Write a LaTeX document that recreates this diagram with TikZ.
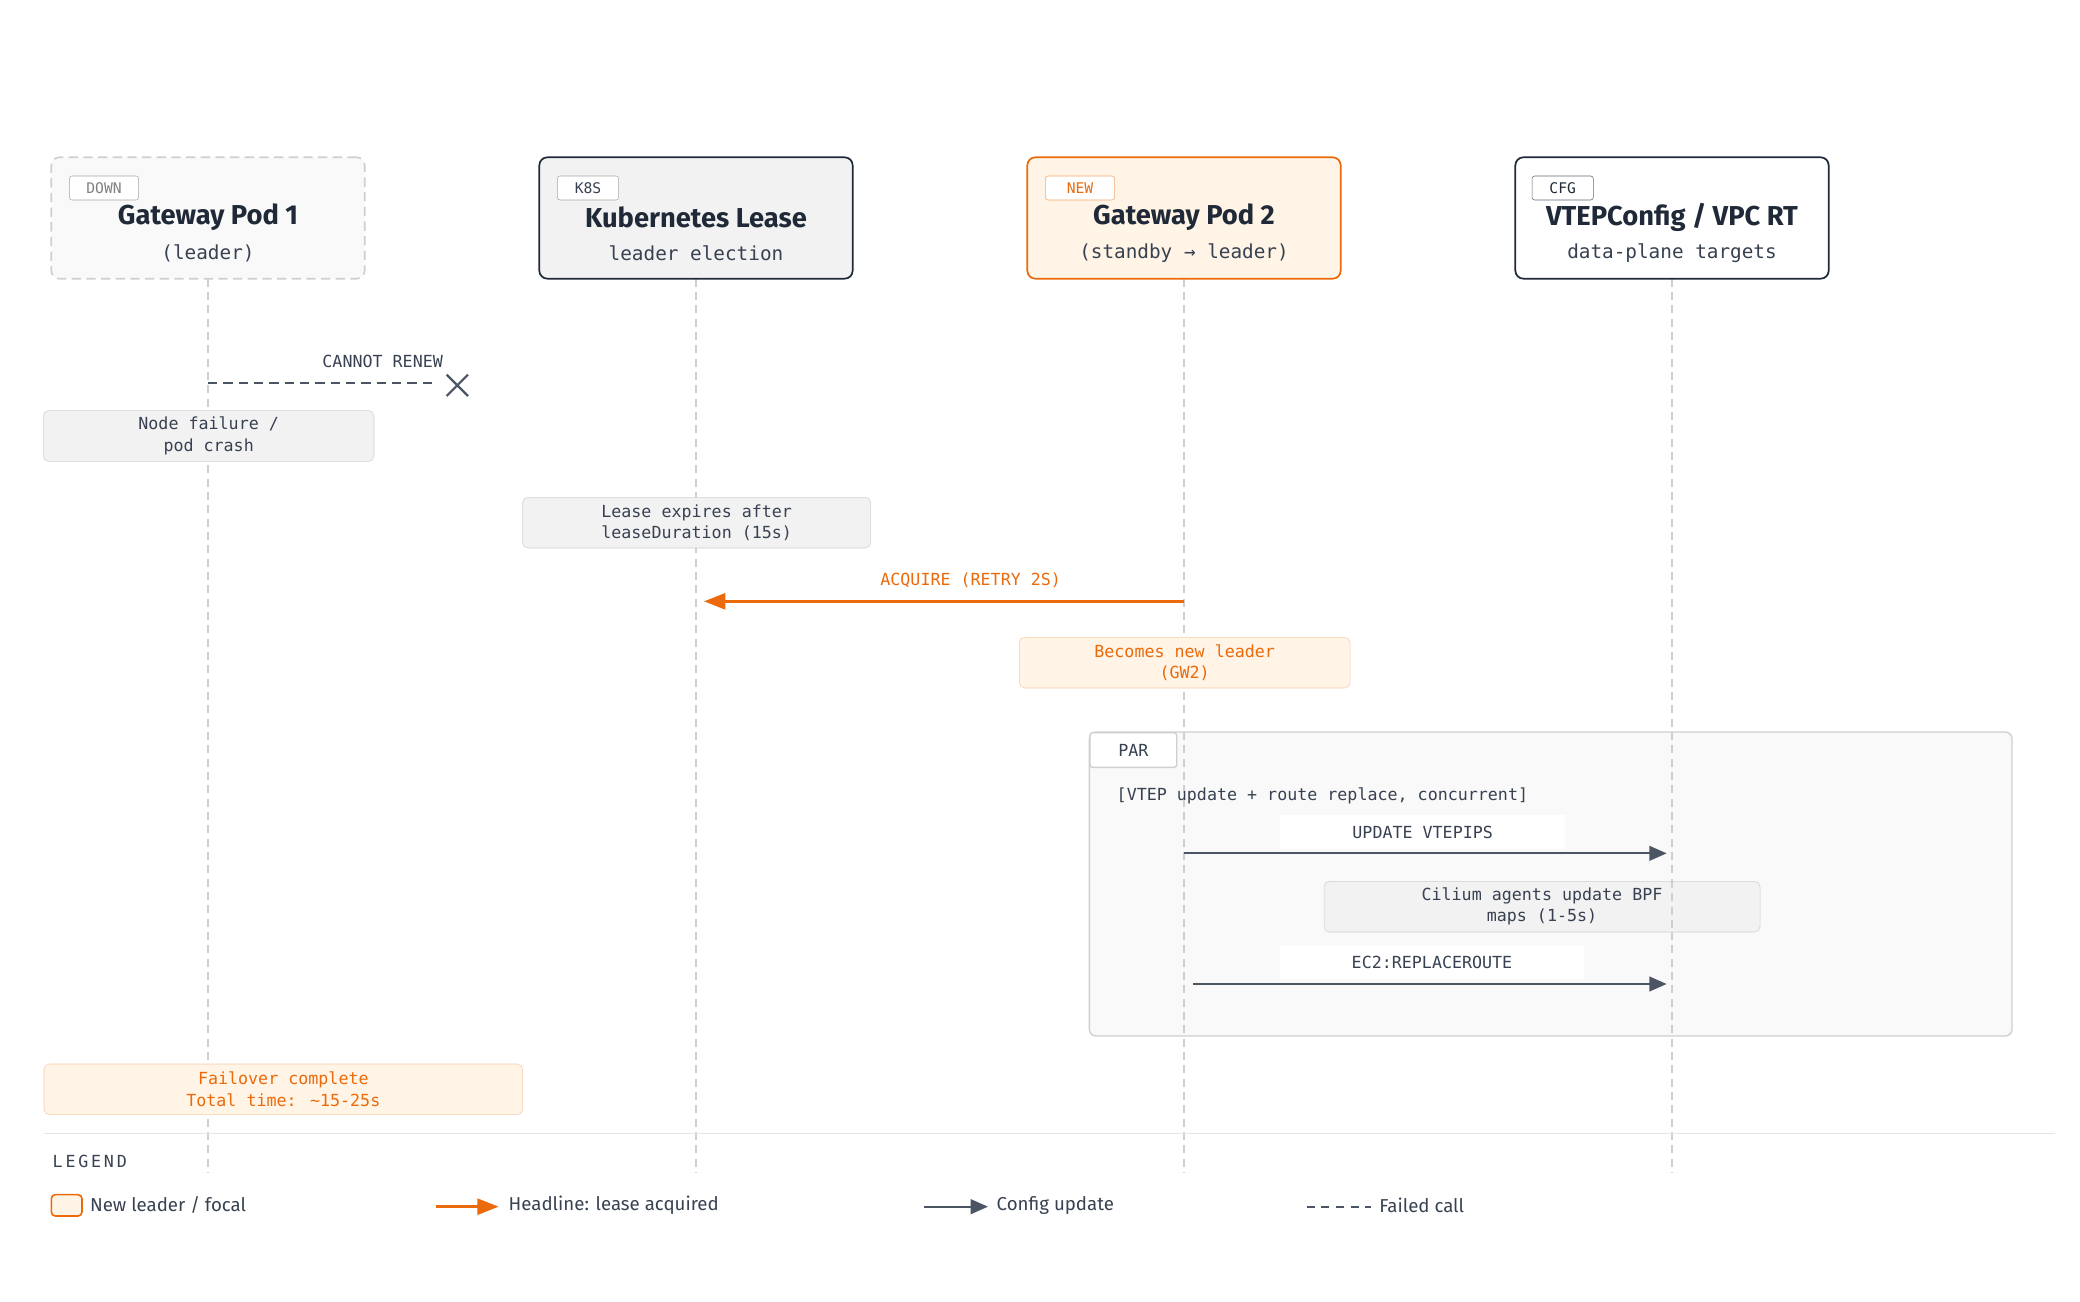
\documentclass[tikz,border=0pt]{standalone}
\usepackage{fontspec}
\setmainfont{Fira Sans}
\newfontfamily\monof{DejaVu Sans Mono}
\usetikzlibrary{arrows.meta}
\definecolor{ink}{HTML}{1F2937}
\definecolor{org}{HTML}{EA6A0C}
\definecolor{orgfill}{HTML}{FFF4E5}
\definecolor{grayl}{HTML}{CFCFCF}
\definecolor{arr}{HTML}{4B5563}
\definecolor{txt}{HTML}{374151}
\begin{document}
\begin{tikzpicture}[x=1pt,y=-1pt,
  head/.style={draw=ink,line width=1.3pt,rounded corners=6pt,minimum width=235pt,minimum height=91pt,fill=#1},
  tag/.style={draw=gray!70,rounded corners=2pt,font=\monof\fontsize{11}{11}\selectfont,minimum width=52pt,minimum height=18pt,inner sep=1pt,fill=white},
  ttl/.style={font=\fontsize{20.5}{21}\selectfont\bfseries,text=ink},
  sub/.style={font=\monof\fontsize{14.5}{15}\selectfont,text=txt},
  life/.style={draw=grayl,dash pattern=on 6pt off 4pt,line width=0.9pt},
  note/.style={draw=grayl,fill=gray!10,rounded corners=4pt,font=\monof\fontsize{12.5}{16}\selectfont,text=txt,align=center,minimum height=38pt},
  onote/.style={note,draw=org!35,fill=orgfill,text=org},
  lbl/.style={font=\monof\fontsize{12.5}{13}\selectfont,text=txt},
  cfg/.style={draw=arr,line width=1.6pt,-{Triangle[length=13pt,width=11pt]}},
  hl/.style={draw=org,line width=2pt,-{Triangle[length=16pt,width=12pt]}},
]
\useasboundingbox (0,0) rectangle (1560,976);
% lifelines
\foreach \n/\x in {a/156,b/522,c/888,d/1254}{\coordinate (\n t) at (\x,209); \coordinate (\n b) at (\x,880); \draw[life] (\n t) -- (\n b);}
% headers
\node[head=gray!5,draw=grayl,dash pattern=on 7pt off 4pt] (h1) at (156,163.5) {};
\node[head=gray!10] (h2) at (522,163.5) {};
\node[head=orgfill,draw=org] (h3) at (888,163.5) {};
\node[head=white] (h4) at (1254,163.5) {};
\node[tag,text=gray] (t1) at (78,141) {DOWN};
\node[tag,text=txt,minimum width=46pt] (t2) at (441,141) {K8S};
\node[tag,text=org,draw=org!60,minimum width=52pt] (t3) at (810,141) {NEW};
\node[tag,text=ink,draw=ink!70,minimum width=46pt] (t4) at (1172,141) {CFG};
\node[ttl] (n1) at (156,163) {Gateway Pod 1};
\node[ttl] (n2) at (522,163) {Kubernetes Lease};
\node[ttl] (n3) at (888,163) {Gateway Pod 2};
\node[ttl] (n4) at (1254,163) {VTEPConfig / VPC RT};
\node[sub] (s1) at (156,190) {(leader)};
\node[sub] (s2) at (522,190) {leader election};
\node[sub] (s3) at (888,190) {(standby → leader)};
\node[sub] (s4) at (1254,190) {data-plane targets};
% failed call
\coordinate (x) at (343,289);
\draw[arr,line width=1.6pt,dash pattern=on 7pt off 4.5pt] (156,287) -- (328,287);
\draw[arr,line width=1.6pt] ([shift={(-8,-8)}]x) -- ([shift={(8,8)}]x) ([shift={(-8,8)}]x) -- ([shift={(8,-8)}]x);
\node[lbl] (cr) at (287,271) {CANNOT RENEW};
% notes
\node[note,minimum width=248pt] (nf) at (156.5,327) {Node failure /\\pod crash};
\node[note,minimum width=261pt] (le) at (522.5,392) {Lease expires after\\leaseDuration (15s)};
\draw[hl] (888,451) -- (528,451);
\node[lbl,text=org] (aq) at (728,435) {ACQUIRE (RETRY 2S)};
\node[onote,minimum width=248pt] (bl) at (888.5,497) {Becomes new leader\\(GW2)};
% par
\draw[grayl,fill=gray!5,line width=1pt,rounded corners=5pt] (817,549) rectangle (1509,777);
\node[draw=grayl,fill=white,line width=1pt,rounded corners=2pt,minimum width=65pt,minimum height=26pt,anchor=north west,lbl] (par) at (817,549) {PAR};
\draw[life] (888,549) -- (888,777) (1254,549) -- (1254,777);
\node[lbl,anchor=west] (cond) at (834,597) {[VTEP update + route replace, concurrent]};
\node[fill=white,minimum width=214pt,minimum height=25pt,lbl] (u1) at (1067,624) {UPDATE VTEPIPS};
\draw[cfg] (888,640) -- (1250,640);
\node[note,minimum width=327pt] (ci) at (1156.5,680) {Cilium agents update BPF\\maps (1-5s)};
\draw[life] (1254,660) -- (1254,699);
\node[fill=white,minimum width=228pt,minimum height=25pt,lbl] (u2) at (1074,722) {EC2:REPLACEROUTE};
\draw[cfg] (895,738) -- (1250,738);
% failover
\node[onote,minimum width=359pt] (fo) at (212.5,817) {Failover complete\\Total time: \textasciitilde15-25s};
% legend
\draw[gray!20,line width=1pt] (33,850) -- (1541,850);
\node[anchor=west,font=\monof\fontsize{12.5}{13}\selectfont,text=txt] (lg) at (36,871) {L\,E\,G\,E\,N\,D};
\node[draw=org,fill=orgfill,rounded corners=3pt,minimum width=23pt,minimum height=16pt,line width=1.2pt] (k1) at (50,904) {};
\node[anchor=west,font=\fontsize{14}{15}\selectfont,text=txt] at (64,904) {New leader / focal};
\coordinate (k2a) at (327,905); \coordinate (k2b) at (374,905);
\draw[hl] (k2a) -- (k2b);
\node[anchor=west,font=\fontsize{14}{15}\selectfont,text=txt] at (378,904) {Headline: lease acquired};
\coordinate (k3a) at (693,905); \coordinate (k3b) at (741,905);
\draw[cfg] (k3a) -- (k3b);
\node[anchor=west,font=\fontsize{14}{15}\selectfont,text=txt] at (744,904) {Config update};
\coordinate (k4a) at (980,905); \coordinate (k4b) at (1028,905);
\draw[arr,line width=1.6pt,dash pattern=on 6pt off 5pt] (k4a) -- (k4b);
\node[anchor=west,font=\fontsize{14}{15}\selectfont,text=txt] at (1031,904) {Failed call};
\end{tikzpicture}
\end{document}
